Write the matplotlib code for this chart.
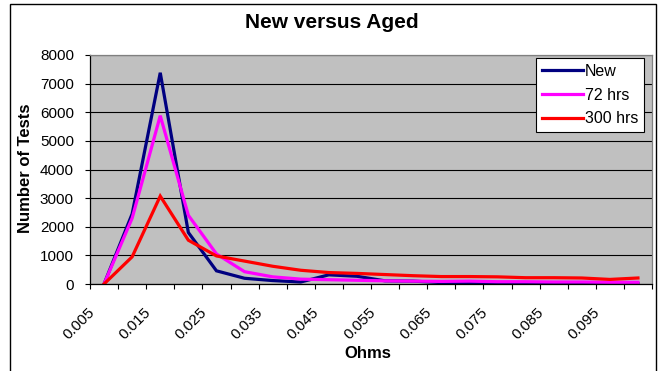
import matplotlib
matplotlib.use("Agg")
import matplotlib.pyplot as plt
import matplotlib.transforms as mtransforms
from matplotlib.patches import Rectangle
import numpy as np

plt.rcParams['font.family'] = ['Liberation Sans', 'DejaVu Sans']

# resistance bins (ohms)
ohms = [0.005, 0.010, 0.015, 0.020, 0.025, 0.030, 0.035, 0.040, 0.045, 0.050,
        0.055, 0.060, 0.065, 0.070, 0.075, 0.080, 0.085, 0.090, 0.095, 0.100]

# number of tests per bin
new_tests = [0, 2450, 7380, 1800, 460, 200, 120, 70, 320, 270,
             110, 100, 50, 40, 30, 30, 20, 20, 20, 10]
hrs72_tests = [0, 2300, 5880, 2400, 1050, 430, 250, 170, 150, 130,
               110, 100, 90, 100, 80, 80, 70, 70, 60, 60]
hrs300_tests = [0, 950, 3070, 1530, 980, 800, 620, 480, 400, 370,
                330, 290, 260, 260, 250, 220, 220, 210, 160, 210]

series_names = ['New', '72 hrs', '300 hrs']
series_colors = ['#000080', '#FF00FF', '#FF0000']

W, H = 658, 371
fig = plt.figure(figsize=(W / 100, H / 100), dpi=100)
fig.patch.set_facecolor('white')

# chart border
fig.patches.append(Rectangle((10 / W, -0.05), (656 - 10) / W, 1.05 - 4 / H,
                             transform=fig.transFigure, fill=False,
                             edgecolor='black', linewidth=1.0))

ax = fig.add_axes([90 / W, 1 - 284 / H, 562 / W, 229 / H])
ax.set_facecolor('#C0C0C0')

x = np.arange(len(ohms))
for vals, name, col in zip([new_tests, hrs72_tests, hrs300_tests], series_names, series_colors):
    ax.plot(x, vals, color=col, linewidth=2.3, label=name, solid_joinstyle='miter')

ax.set_xlim(-0.5, len(ohms) - 0.5)
ax.set_ylim(0, 8000)

# grid
ax.set_yticks(np.arange(0, 8001, 1000))
ax.yaxis.grid(True, color='black', linewidth=0.8)
ax.set_axisbelow(True)

# category axis: ticks between categories, labels on every other one
ax.set_xticks(np.arange(-0.5, len(ohms), 1.0))
ax.set_xticklabels([])
ax.set_xticks(x[::2], minor=True)
ax.set_xticklabels(['%.3f' % v for v in ohms[::2]], minor=True,
                   rotation=45, ha='right', va='top', fontsize=11)
ax.tick_params(axis='x', which='major', direction='out', length=3.6, width=0.8)
ax.tick_params(axis='x', which='minor', length=0, pad=15.5)
shift = mtransforms.ScaledTranslation(-7 / 100, 0, fig.dpi_scale_trans)
for lab in ax.get_xticklabels(minor=True):
    lab.set_transform(lab.get_transform() + shift)

ax.tick_params(axis='y', direction='out', length=3.6, width=0.8, pad=8, labelsize=11)

for s in ['left', 'bottom']:
    ax.spines[s].set_color('black')
    ax.spines[s].set_linewidth(0.9)
for s in ['top', 'right']:
    ax.spines[s].set_color('#808080')
    ax.spines[s].set_linewidth(0.9)

fig.text(332 / W, 1 - 22.5 / H, 'New versus Aged', ha='center', va='center',
         fontsize=15, fontweight='bold')
fig.text(26 / W, 1 - 168 / H, 'Number of Tests', ha='center', va='center',
         rotation=90, fontsize=12, fontweight='bold')
fig.text(367.5 / W, 1 - 353 / H, 'Ohms', ha='center', va='center',
         fontsize=12, fontweight='bold')

leg = ax.legend(loc='upper left', bbox_to_anchor=(536 / W, 1 - 58.3 / H),
                bbox_transform=fig.transFigure, borderaxespad=0,
                fontsize=11.5, handlelength=2.6, handletextpad=0.1,
                labelspacing=0.55, borderpad=0.35, fancybox=False,
                framealpha=1, edgecolor='black')
leg.get_frame().set_linewidth(0.8)

fig.savefig('out.png', dpi=100)
